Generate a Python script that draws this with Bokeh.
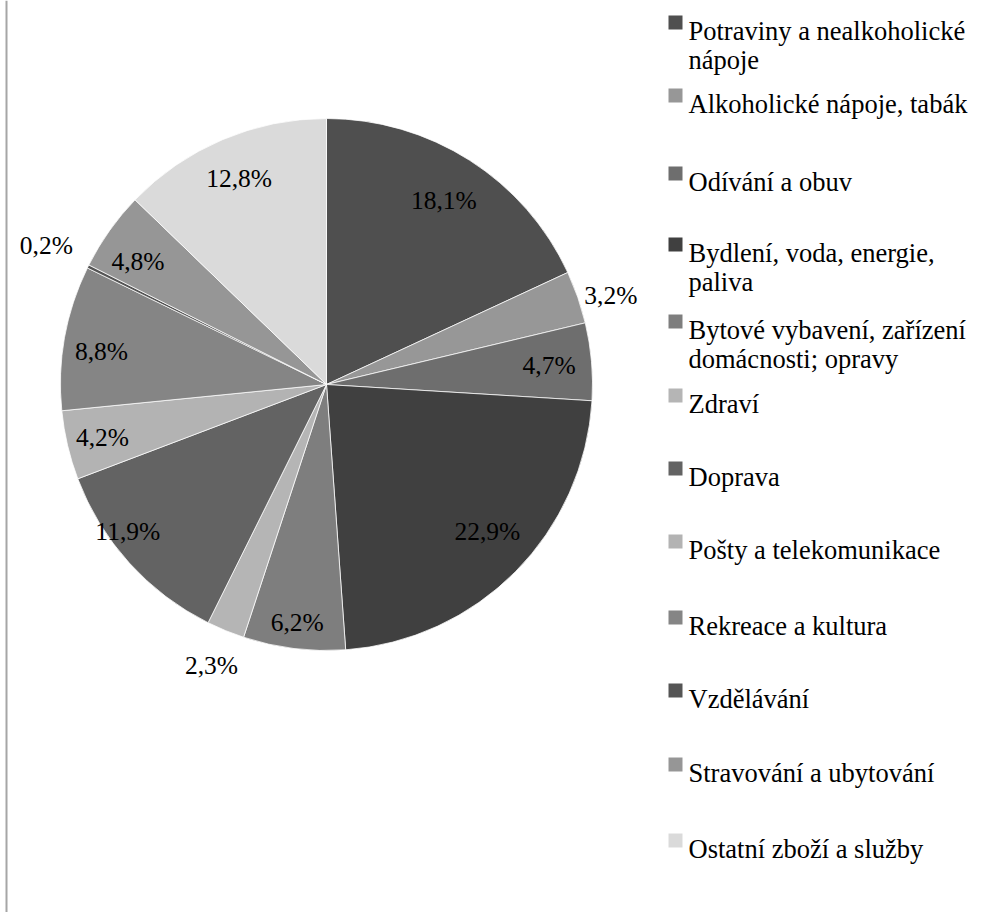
import math
import textwrap
from bokeh.plotting import figure
from bokeh.models import Range1d, Span, ColumnDataSource
from bokeh.core.properties import value
from bokeh.embed import file_html
from bokeh.resources import INLINE

# ---- data ----
categories = [
    "Potraviny a nealkoholické nápoje",
    "Alkoholické nápoje, tabák",
    "Odívání a obuv",
    "Bydlení, voda, energie, paliva",
    "Bytové vybavení, zařízení domácnosti; opravy",
    "Zdraví",
    "Doprava",
    "Pošty a telekomunikace",
    "Rekreace a kultura",
    "Vzdělávání",
    "Stravování a ubytování",
    "Ostatní zboží a služby",
]
shares = [18.1, 3.2, 4.7, 22.9, 6.2, 2.3, 11.9, 4.2, 8.8, 0.2, 4.8, 12.8]
colors = ["#4f4f4f", "#979797", "#6e6e6e", "#404040", "#7e7e7e", "#b5b5b5",
          "#636363", "#b3b3b3", "#858585", "#555555", "#969696", "#dadada"]

# ---- layout ----
W, H = 978, 912
def fx(X):
    return X
def fy(Y):
    return H - Y

CX, CY, R = fx(326), fy(384), 266
label_frac = [0.82, 1.12, 0.84, 0.82, 0.90, 1.14, 0.93, 0.865, 0.855, 1.175, 0.846, 0.84]
label_dtheta = [0, 1.8, 0, -2.2, 0, 0, 5.6, 0, -1.7, 0, -2.2, 0]   # degrees, clockwise
legend_base = [30, 103, 181, 252, 329, 403, 476, 549, 625, 698, 772, 848]
LINE_GAP = 29
SERIF = "'Liberation Serif', 'Times New Roman', serif"

p = figure(width=W, height=H, x_range=Range1d(0, W), y_range=Range1d(0, H),
           output_backend="svg", toolbar_location=None, min_border=0,
           x_axis_type=None, y_axis_type=None)
p.grid.visible = False
p.outline_line_color = None
p.background_fill_color = "white"
p.border_fill_color = "white"

total = sum(shares)
starts, ends, lx, ly, labels = [], [], [], [], []
cum = 0.0
for i, v in enumerate(shares):
    a0 = cum / total
    cum += v
    a1 = cum / total
    starts.append(math.pi / 2 - 2 * math.pi * a1)
    ends.append(math.pi / 2 - 2 * math.pi * a0)
    mid = (a0 + a1) / 2
    th = math.pi / 2 - 2 * math.pi * mid - math.radians(label_dtheta[i])
    lx.append(CX + label_frac[i] * R * math.cos(th))
    ly.append(CY + label_frac[i] * R * math.sin(th))
    labels.append(f"{v:.1f}".replace(".", ",") + "%")

src = ColumnDataSource(dict(start=starts, end=ends, color=colors))
p.wedge(x=CX, y=CY, radius=R, start_angle="start", end_angle="end",
        fill_color="color", line_color="white", line_width=0.75, source=src)

p.text(x=lx, y=ly, text=labels, text_align="center", text_baseline="middle",
       text_font=value(SERIF), text_font_size="25.5px", text_color="black")

# legend
sq_l, sq_r, sq_t, sq_b = [], [], [], []
tx, ty, tt = [], [], []
for i, name in enumerate(categories):
    b = legend_base[i]
    sq_l.append(fx(668)); sq_r.append(fx(682))
    sq_t.append(fy(b - 15)); sq_b.append(fy(b - 1))
    for k, line in enumerate(textwrap.wrap(name, 25)):
        tx.append(fx(688))
        ty.append(fy(b + k * LINE_GAP))
        tt.append(line)
p.quad(left=sq_l, right=sq_r, top=sq_t, bottom=sq_b, fill_color=colors, line_color=None)
p.text(x=tx, y=ty, text=tt, text_align="left", text_baseline="alphabetic",
       text_font=value(SERIF), text_font_size="26.5px", text_color="black")

p.add_layout(Span(location=6, dimension="height", line_color="#a6a6a6", line_width=2))

open("out.html", "w").write(file_html(p, INLINE))
